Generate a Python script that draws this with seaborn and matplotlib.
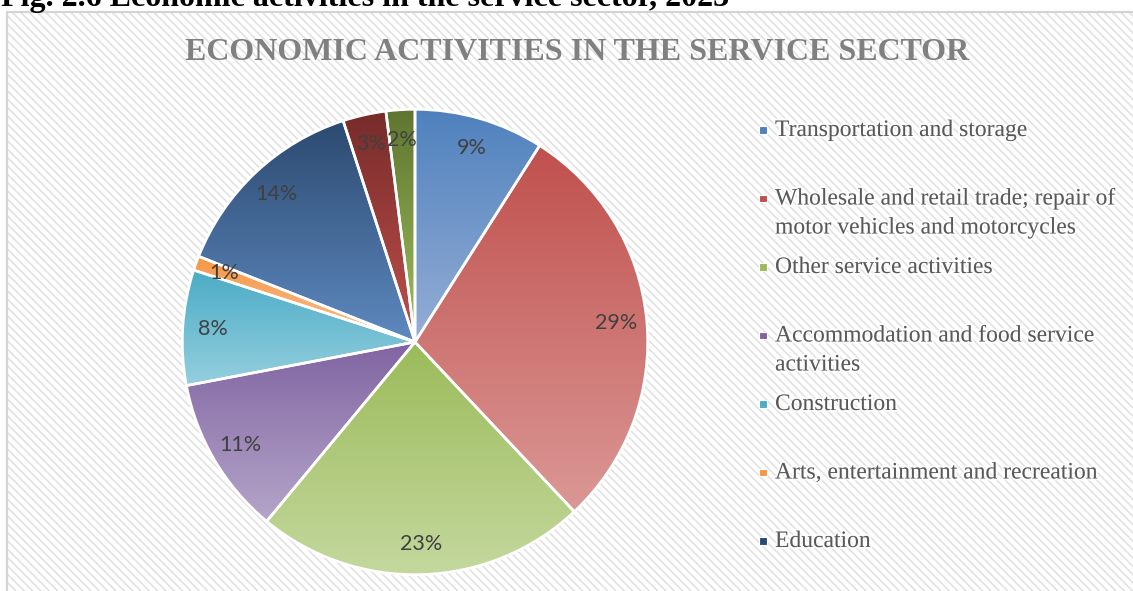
import textwrap

import numpy as np
import matplotlib
matplotlib.use("Agg")
import matplotlib.pyplot as plt
import matplotlib.patheffects as pe
from matplotlib.colors import LinearSegmentedColormap
from matplotlib.patches import Rectangle
import seaborn as sns

# ---- data -------------------------------------------------------------
categories = [
    "Transportation and storage",
    "Wholesale and retail trade; repair of motor vehicles and motorcycles",
    "Other service activities",
    "Accommodation and food service activities",
    "Construction",
    "Arts, entertainment and recreation",
    "Education",
    "Information and communication",
    "Financial and insurance activities",
]
shares = [9, 29, 23, 11, 8, 1, 14, 3, 2]

# slice gradients: colour at the top of each slice -> colour at its bottom
top_colors = ["#4F81BD", "#C0504D", "#9BBB59", "#8064A2", "#4BACC6",
              "#F79646", "#2C4A70", "#772C2A", "#5F7530"]
bottom_colors = ["#95AED6", "#DB9896", "#C4D89E", "#B5A5C9", "#95CFDF",
                 "#FAC191", "#5E89C0", "#C0504D", "#9FBF5D"]

chart_title = "ECONOMIC ACTIVITIES IN THE SERVICE SECTOR"
figure_caption = "Fig. 2.6 Economic activities in the service sector, 2023"
legend_rows = 7

# ---- style ------------------------------------------------------------
sns.set_theme(style="white")
plt.rcParams["font.family"] = ["Liberation Serif", "DejaVu Serif"]
plt.rcParams["hatch.linewidth"] = 1.2

W, H = 1133, 591
fig = plt.figure(figsize=(W / 100, H / 100), dpi=100, facecolor="white")

def fx(px):
    return px / W

def fy(py):
    return 1 - py / H

# hatched chart area with a thin grey frame
left, top = 7, 12
bg = Rectangle((fx(left), -0.05), 1.1, fy(top) + 0.05, transform=fig.transFigure,
               facecolor="white", edgecolor="#e2e2e2", hatch="\\\\\\\\", lw=0,
               zorder=-5)
fig.add_artist(bg)
frame = Rectangle((fx(left), -0.05), 1.1, fy(top) + 0.05, transform=fig.transFigure,
                  facecolor="none", edgecolor="#d4d4d4", lw=1.6, zorder=-4)
fig.add_artist(frame)

# caption above the chart
fig.text(fx(1), fy(6), figure_caption, fontsize=23, fontweight="bold",
         color="black", ha="left", va="baseline")

# chart title
fig.text(fx(577), fy(52), chart_title, fontsize=23, fontweight="bold",
         color="#808080", ha="center", va="center")

# ---- pie --------------------------------------------------------------
cx, cy, r = 415, 342, 235
ax = fig.add_axes([fx(cx - r), 1 - (cy + r) / H, 2 * r / W, 2 * r / H])
ax.patch.set_alpha(0)

wedges, _, autotexts = ax.pie(
    shares, startangle=90, counterclock=False, radius=1,
    autopct=lambda p: f"{p:.0f}%", pctdistance=0.87,
    wedgeprops=dict(edgecolor="white", linewidth=1.9, zorder=2),
    textprops=dict(fontfamily="Lato", fontsize=15.5, color="#404040"),
)

grad = np.linspace(0, 1, 256)[:, None]
for w, c0, c1 in zip(wedges, top_colors, bottom_colors):
    verts = w.get_path().vertices
    x0, y0 = verts.min(axis=0)
    x1, y1 = verts.max(axis=0)
    cmap = LinearSegmentedColormap.from_list("slice", [c0, c1])
    im = ax.imshow(grad, cmap=cmap, extent=[x0, x1, y0, y1], origin="upper",
                   aspect="auto", interpolation="bilinear", zorder=1)
    im.set_clip_path(w)
    w.set_facecolor("none")

for t in autotexts:
    t.set_zorder(4)

ax.set_xlim(-1.01, 1.01)
ax.set_ylim(-1.01, 1.01)
ax.set_aspect("equal")
ax.axis("off")

# ---- legend -----------------------------------------------------------
first_baseline, row_step, line_step = 136, 68.5, 29
glow = [pe.withStroke(linewidth=3, foreground="white", alpha=0.7)]
for i in range(legend_rows):
    base = first_baseline + i * row_step
    lines = textwrap.wrap(categories[i], width=37)
    for k, line in enumerate(lines):
        fig.text(fx(775), fy(base + k * line_step), line, fontsize=17,
                 color="#595959", ha="left", va="baseline", path_effects=glow)
    sq = Rectangle((fx(759), fy(base - 2.5)), fx(7.5), 7.5 / H,
                   transform=fig.transFigure, facecolor=top_colors[i],
                   edgecolor="white", lw=0.8)
    fig.add_artist(sq)

fig.savefig("out.png", dpi=100, facecolor="white")
